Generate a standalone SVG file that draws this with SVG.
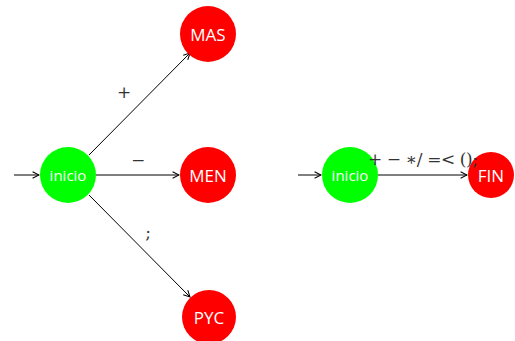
<svg xmlns="http://www.w3.org/2000/svg" width="515" height="341" viewBox="0 0 515 341">
  <defs>
    <marker id="arr" viewBox="0 0 10 10" refX="9" refY="5" markerWidth="8" markerHeight="8" markerUnits="userSpaceOnUse" orient="auto">
      <path d="M1,1 L9,5 L1,9" fill="none" stroke="#000" stroke-width="1.3"/>
    </marker>
  </defs>
  <style>
    .start { fill: #00ff00; }
    .state { fill: #ff0000; }
    .name { font-family: "Open Sans", "DejaVu Sans", sans-serif; font-size: 17px; fill: #fff; text-anchor: middle; dominant-baseline: central; }
    .small { font-size: 15px; }
    .edge { stroke: #000; stroke-width: 1; fill: none; marker-end: url(#arr); }
    .lbl { font-family: "DejaVu Serif", "Liberation Serif", serif; font-size: 17px; fill: #333; text-anchor: middle; }
  </style>
  <rect width="515" height="341" fill="#fff"/>

  <g id="connectors">
    <line class="edge" x1="14" y1="175" x2="39" y2="175"/>
    <line class="edge" x1="89" y1="155" x2="190" y2="53"/>
    <line class="edge" x1="96" y1="175" x2="179" y2="175"/>
    <line class="edge" x1="89" y1="195" x2="190" y2="297"/>
    <line class="edge" x1="298" y1="175" x2="321" y2="175"/>
    <line class="edge" x1="378" y1="175" x2="467" y2="175"/>
  </g>

  <g id="inicio1">
    <circle class="start" cx="68" cy="175" r="28"/>
    <text class="name small" x="68" y="175">inicio</text>
  </g>
  <g id="MAS">
    <circle class="state" cx="208" cy="34" r="28"/>
    <text class="name" x="208" y="34">MAS</text>
  </g>
  <g id="MEN">
    <circle class="state" cx="208" cy="175" r="28"/>
    <text class="name" x="208" y="175">MEN</text>
  </g>
  <g id="PYC">
    <circle class="state" cx="209" cy="317" r="27"/>
    <text class="name" x="209" y="317">PYC</text>
  </g>
  <g id="inicio2">
    <circle class="start" cx="350" cy="175" r="28"/>
    <text class="name small" x="350" y="175">inicio</text>
  </g>
  <g id="FIN">
    <circle class="state" cx="491" cy="175" r="23"/>
    <text class="name" x="491" y="175">FIN</text>
  </g>

  <!-- edge labels, painted above the nodes -->
  <g id="edge-labels">
    <text class="lbl" x="124" y="98">+</text>
    <text class="lbl" x="138" y="166">−</text>
    <text class="lbl" x="148" y="238">;</text>
    <text class="lbl" x="423" y="165" textLength="110" lengthAdjust="spacing">+ − ∗/ =&lt; ();</text>
  </g>
</svg>
